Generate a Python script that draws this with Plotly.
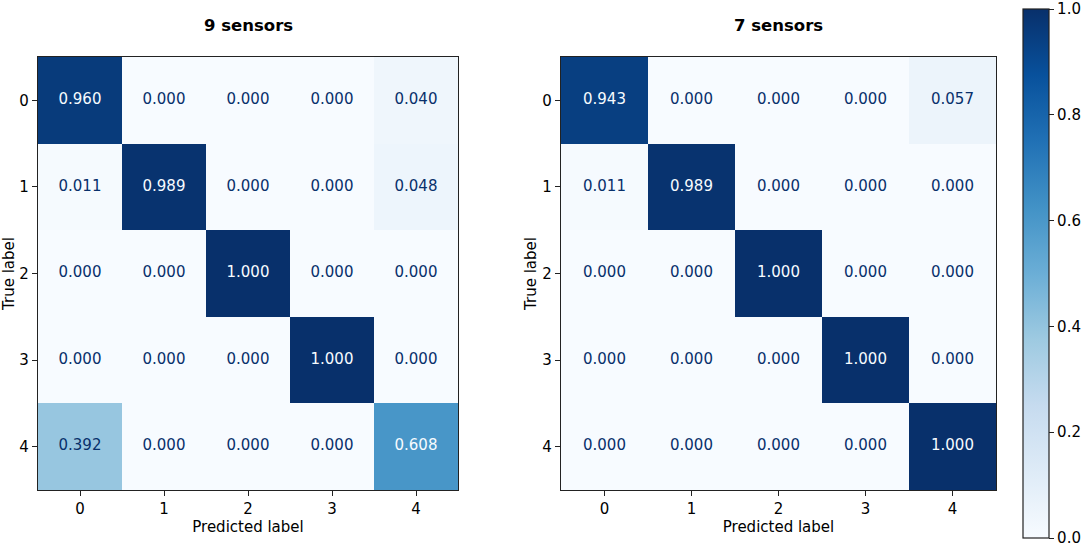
import plotly.graph_objects as go

labels = [0, 1, 2, 3, 4]
titles = ["9 sensors", "7 sensors"]
cm_9 = [
    [0.960, 0.000, 0.000, 0.000, 0.040],
    [0.011, 0.989, 0.000, 0.000, 0.048],
    [0.000, 0.000, 1.000, 0.000, 0.000],
    [0.000, 0.000, 0.000, 1.000, 0.000],
    [0.392, 0.000, 0.000, 0.000, 0.608],
]
cm_7 = [
    [0.943, 0.000, 0.000, 0.000, 0.057],
    [0.011, 0.989, 0.000, 0.000, 0.000],
    [0.000, 0.000, 1.000, 0.000, 0.000],
    [0.000, 0.000, 0.000, 1.000, 0.000],
    [0.000, 0.000, 0.000, 0.000, 1.000],
]
cbar_ticks = [0.0, 0.2, 0.4, 0.6, 0.8, 1.0]

blues = ["#f7fbff", "#deebf7", "#c6dbef", "#9ecae1", "#6baed6",
         "#4292c6", "#2171b5", "#08519c", "#08306b"]
colorscale = [[i / (len(blues) - 1), c] for i, c in enumerate(blues)]

FONT = "DejaVu Sans"
FS = 15
W, H = 1084, 548

fig = go.Figure()

domains = [(38 / W, 458 / W), (561 / W, 996 / W)]
ydom = (1 - 490 / H, 1 - 57 / H)

for k, (cm, title) in enumerate(zip([cm_9, cm_7], titles)):
    xa = "x" if k == 0 else "x2"
    ya = "y" if k == 0 else "y2"
    fig.add_trace(go.Heatmap(
        z=cm, x=labels, y=labels, coloraxis="coloraxis",
        xaxis=xa, yaxis=ya, hoverinfo="skip",
    ))
    xs, ys, ts, cs = [], [], [], []
    for i, row in enumerate(cm):
        for j, v in enumerate(row):
            xs.append(labels[j])
            ys.append(labels[i])
            ts.append(f"{v:.3f}")
            cs.append("#f7fbff" if v > 0.5 else "#08306b")
    fig.add_trace(go.Scatter(
        x=xs, y=ys, text=ts, mode="text", xaxis=xa, yaxis=ya,
        textfont=dict(family=FONT, size=FS, color=cs),
        showlegend=False, hoverinfo="skip",
    ))

axis_common = dict(
    showline=True, mirror=True, linecolor="#222222", linewidth=1.2,
    ticks="outside", ticklen=5, tickwidth=1.2, tickcolor="#222222",
    tickvals=labels, ticktext=[str(l) for l in labels],
    tickfont=dict(family=FONT, size=FS, color="black"),
    showgrid=False, zeroline=False, automargin=False,
)

title_font = dict(family=FONT, size=FS, color="black")

fig.update_layout(
    width=W, height=H,
    margin=dict(l=0, r=0, t=0, b=0, autoexpand=False),
    paper_bgcolor="white", plot_bgcolor="white",
    showlegend=False,
    coloraxis=dict(
        colorscale=colorscale, cmin=0, cmax=1,
        colorbar=dict(
            x=1023 / W, xanchor="left", xpad=0, ypad=0,
            y=1 - 9 / H, yanchor="top",
            lenmode="pixels", len=529, thickness=26,
            outlinewidth=1.2, outlinecolor="#222222",
            ticks="outside", ticklen=5, tickwidth=1.2, tickcolor="#222222",
            tickvals=cbar_ticks, ticktext=[f"{t:.1f}" for t in cbar_ticks],
            tickfont=dict(family=FONT, size=FS, color="black"),
        ),
    ),
    xaxis=dict(domain=domains[0], anchor="y", range=[-0.5, 4.5],
               title=dict(text="Predicted label", standoff=1, font=title_font),
               **axis_common),
    yaxis=dict(domain=ydom, anchor="x", range=[4.5, -0.5],
               title=dict(text="True label", standoff=2, font=title_font),
               **axis_common),
    xaxis2=dict(domain=domains[1], anchor="y2", range=[-0.5, 4.5],
                title=dict(text="Predicted label", standoff=1, font=title_font),
                **axis_common),
    yaxis2=dict(domain=ydom, anchor="x2", range=[4.5, -0.5],
                title=dict(text="True label", standoff=2, font=title_font),
                **axis_common),
)

for k, title in enumerate(titles):
    cx = (domains[k][0] + domains[k][1]) / 2
    fig.add_annotation(
        text=f"<b>{title}</b>", x=cx, y=1 - 25 / H, xref="paper", yref="paper",
        xanchor="center", yanchor="middle", showarrow=False,
        font=dict(family=FONT, size=16.5, color="black"),
    )

fig.write_html(
    "out.html",
    config={"displayModeBar": False},
    post_script="document.body.style.margin='0';document.body.style.overflow='hidden';",
)
